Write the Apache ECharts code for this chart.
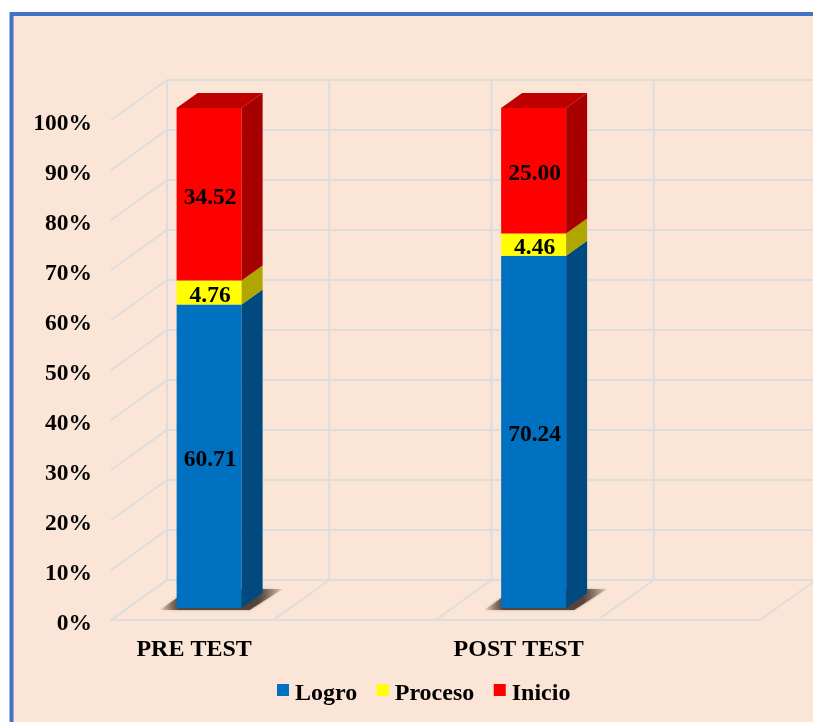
<!DOCTYPE html>
<html><head><meta charset="utf-8">
<style>html,body{margin:0;padding:0;background:#fff}#c{width:813px;height:722px}</style>
<script src="https://cdn.jsdelivr.net/npm/echarts@6/dist/echarts.min.js"></script>
</head><body><div id="c"></div>
<script>
const categories = ['PRE TEST', '', 'POST TEST', ''];
const logro   = [60.71, null, 70.24, null];
const proceso = [4.76, null, 4.46, null];
const inicio  = [34.52, null, 25.00, null];
const gridTicks = [0,10,20,30,40,50,60,70,80,90,100];

const FONT = '"Liberation Serif"';
const GRIDC = '#dedddd';
const DEPTH = [56, -40];     // wall depth
const BAR_W = 65, BAR_DX = 17, BAR_DY = -12, SIDE = [21, -15];

const seriesDefs = [
  {name:'Logro',   vals:logro,   front:'#0070C0', side:'#004A80', top:'#005A9A'},
  {name:'Proceso', vals:proceso, front:'#FFFF00', side:'#AFA600', top:'#C8C800'},
  {name:'Inicio',  vals:inicio,  front:'#FF0000', side:'#A60000', top:'#BF0000'}
];

function poly(pts, fill, extra){
  return Object.assign({type:'polygon', shape:{points:pts}, style:{fill:fill}}, extra||{});
}
function renderBar(def, idx){
  return function(params, api){
    const i = api.value(0), base = api.value(1), v = api.value(2), raw = api.value(3);
    const c = api.coord([i, base]), t = api.coord([i, base + v]);
    const x0 = c[0] + BAR_DX - BAR_W/2, x1 = x0 + BAR_W;
    const yb = c[1] + BAR_DY, yt = t[1] + BAR_DY;
    const kids = [];
    if (idx === 0) {
      const fill = new echarts.graphic.LinearGradient(0,0,1,0,[
        {offset:0,color:'rgba(66,50,42,0.05)'},{offset:0.16,color:'rgba(66,50,42,0.85)'},
        {offset:0.8,color:'rgba(66,50,42,0.85)'},{offset:1,color:'rgba(66,50,42,0.1)'}]);
      kids.push(poly([[x0-17,yb+2],[x1+8,yb+2],[x1+41,yb-19],[x0+13,yb-19]], fill,
        {style:{fill:fill, shadowBlur:3, shadowColor:'rgba(66,50,42,0.45)'}}));
    }
    kids.push({type:'rect', shape:{x:x0,y:yt,width:BAR_W,height:yb-yt}, style:{fill:def.front}});
    kids.push(poly([[x1,yb],[x1,yt],[x1+SIDE[0],yt+SIDE[1]],[x1+SIDE[0],yb+SIDE[1]]], def.side));
    if (idx === seriesDefs.length-1) {
      kids.push(poly([[x0,yt],[x1,yt],[x1+SIDE[0],yt+SIDE[1]],[x0+SIDE[0],yt+SIDE[1]]], def.top));
    }
    kids.push({type:'text', z2:10, style:{
      text:raw.toFixed(2), x:(x0+x1)/2+1, y:(yb+yt)/2+3.5, align:'center', verticalAlign:'middle',
      font:'bold 23.5px '+FONT, fill:'#000'}});
    return {type:'group', children:kids};
  };
}
// the bars are stacked to 100% of each category's total
function barData(vals, before){
  const all = seriesDefs.map(s=>s.vals);
  const out = [];
  vals.forEach((v,i)=>{
    if (v==null) return;
    let b = 0, total = 0;
    before.forEach(a=>{b+=a[i]||0});
    all.forEach(a=>{total+=a[i]||0});
    out.push([i,b/total*100,v/total*100,v]);
  });
  return out;
}
function line(pts){
  return {type:'polyline', shape:{points:pts}, style:{stroke:GRIDC, lineWidth:2, fill:null}};
}
const wallSeries = {
  type:'custom', name:'walls', silent:true, clip:false, z:1,
  coordinateSystem:'cartesian2d', data:gridTicks.map(t=>[0,t]), encode:{x:0,y:1},
  renderItem(params, api){
    const cs = params.coordSys, L = cs.x, R = cs.x+cs.width, y = api.coord([0,api.value(1)])[1];
    const kids = [line([[L,y],[L+DEPTH[0],y+DEPTH[1]],[R+DEPTH[0],y+DEPTH[1]]])];
    if (params.dataIndex === 0) {
      const bw = cs.width/categories.length;
      kids.push(line([[L,y],[R,y]]));
      for (let k=0;k<=categories.length;k++){
        const X = L+k*bw;
        kids.push(line([[X,y],[X+DEPTH[0],y+DEPTH[1]]]));
        kids.push(line([[X+DEPTH[0],y+DEPTH[1]],[X+DEPTH[0],cs.y+DEPTH[1]]]));
      }
    }
    return {type:'group', children:kids};
  }
};
const chart = echarts.init(document.getElementById('c'), null, {renderer:'canvas'});
const barSeries = seriesDefs.map((d,idx)=>({
  type:'custom', name:d.name, clip:false, z:2+idx,
  coordinateSystem:'cartesian2d',
  itemStyle:{color:d.front},
  data:barData(d.vals, seriesDefs.slice(0,idx).map(s=>s.vals)),
  encode:{x:0,y:[1,2]},
  renderItem:renderBar(d,idx)
}));
chart.setOption({
  animation:false,
  backgroundColor:'#fff',
  graphic:[{type:'rect', z:-10, silent:true, shape:{x:11.5,y:14,width:900,height:800},
    style:{fill:'#FBE5D6', stroke:'#4472C4', lineWidth:4}}],
  grid:{left:111, right:53, top:120, bottom:102, containLabel:false},
  xAxis:{type:'category', data:categories, axisLine:{show:false}, axisTick:{show:false},
    axisLabel:{interval:0, margin:18, padding:[0,0,0,4], color:'#000', fontFamily:FONT, fontWeight:'bold', fontSize:24},
    splitLine:{show:false}},
  yAxis:{type:'value', min:0, max:100, interval:10, axisLine:{show:false}, axisTick:{show:false},
    splitLine:{show:false},
    axisLabel:{formatter:'{value}%', margin:19, verticalAlign:'top', lineHeight:8, color:'#000', fontFamily:FONT, fontWeight:'bold', fontSize:23.5}},
  legend:{data:seriesDefs.map(d=>({name:d.name, icon:'rect'})), left:272, top:677, itemWidth:12, itemHeight:12, itemGap:19.5,
    selectedMode:false,
    formatter:'{t|{name}}',
    textStyle:{color:'#000', rich:{t:{color:'#000', fontFamily:FONT, fontWeight:'bold', fontSize:24, padding:[8,0,0,1]}}}},
  tooltip:{show:false},
  series:[wallSeries].concat(barSeries)
});
</script></body></html>
